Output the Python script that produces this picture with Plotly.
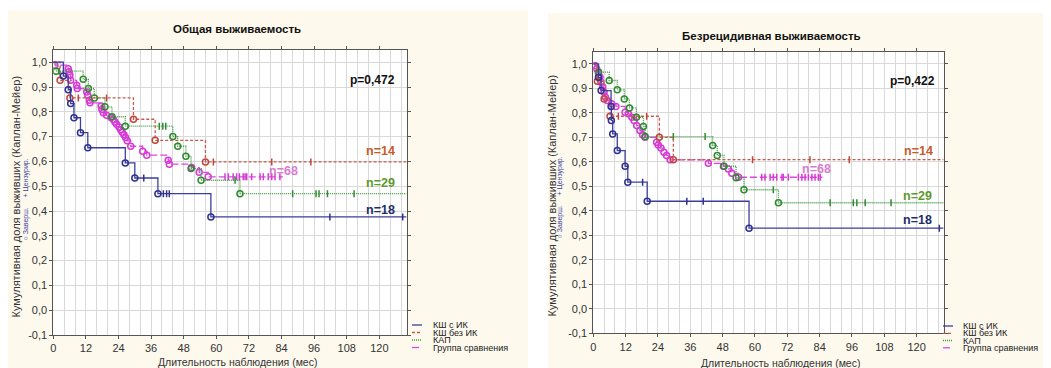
import numpy as np
import plotly.graph_objects as go

# page is rendered with the browser's default 8px body margin
OFF = 8
W, H = 1051 - OFF, 368 - OFF

# ---------------- data ----------------
x_ticks = [0, 12, 24, 36, 48, 60, 72, 84, 96, 108, 120]
y_ticks = [-0.1, 0.0, 0.1, 0.2, 0.3, 0.4, 0.5, 0.6, 0.7, 0.8, 0.9, 1.0]
y_tick_labels = ["-0,1", "0,0", "0,1", "0,2", "0,3", "0,4", "0,5", "0,6", "0,7", "0,8", "0,9", "1,0"]

series_names = ["КШ с ИК", "КШ без ИК", "КАП", "Группа сравнения"]
series_n = ["n=18", "n=14", "n=29", "n=68"]

# Общая выживаемость (overall survival)
os_ksh_ik_t = [3.7, 5.5, 6.4, 7.6, 10.0, 12.7, 26.5, 30.0, 38.5, 58.0]
os_ksh_ik_s = [0.944, 0.889, 0.833, 0.776, 0.716, 0.655, 0.594, 0.533, 0.470, 0.376]
os_ksh_ik_cens = [33.3, 40.5, 41.7, 42.7, 101.8, 128.6]
os_ksh_ik_end = 130

os_ksh_bez_t = [2.5, 6.1, 29.5, 37.5, 56.0]
os_ksh_bez_s = [0.927, 0.856, 0.770, 0.685, 0.598]
os_ksh_bez_cens = [9.2, 19.6, 58.9, 80.4, 94.8]
os_ksh_bez_end = 130

os_kap_t = [1.0, 11.0, 12.9, 15.1, 19.0, 21.6, 26.5, 44.0, 45.8, 48.8, 50.7, 54.4, 68.7]
os_kap_s = [0.964, 0.931, 0.894, 0.856, 0.820, 0.780, 0.742, 0.700, 0.661, 0.621, 0.571, 0.524, 0.470]
os_kap_cens = [2.2, 39.0, 40.3, 41.4, 66.9, 88.1, 96.7, 97.8, 100.9, 110.7]
os_kap_end = 130

os_comp_t = [0.6, 5.5, 5.8, 6.1, 6.4, 8.6, 8.8, 12.3, 12.7, 13.3, 13.5, 17.6, 17.9, 18.4, 19.6,
             21.2, 22.1, 22.7, 23.3, 24.2, 24.8, 25.4, 26.0, 26.6, 27.2, 28.5, 32.9, 34.4,
             42.3, 42.7, 50.9, 53.7, 57.0]
os_comp_s = [0.988, 0.974, 0.961, 0.947, 0.927, 0.907, 0.894, 0.880, 0.867, 0.847, 0.836, 0.823,
             0.809, 0.796, 0.786, 0.777, 0.769, 0.759, 0.750, 0.739, 0.728, 0.718, 0.707, 0.696,
             0.683, 0.661, 0.641, 0.625, 0.605, 0.589, 0.575, 0.556, 0.538]
os_comp_cens = [63.2, 64.4, 66.2, 67.5, 68.5, 69.9, 70.6, 71.2, 73.0, 76.1, 77.3, 79.1, 80.4, 81.6, 83.4]
os_comp_end = 84.5

# Безрецидивная выживаемость (relapse-free survival)
rfs_ksh_ik_t = [1.9, 2.9, 6.6, 6.7, 7.2, 8.9, 11.8, 12.8, 20.0, 57.8]
rfs_ksh_ik_s = [0.945, 0.891, 0.826, 0.769, 0.714, 0.646, 0.582, 0.517, 0.439, 0.329]
rfs_ksh_ik_cens = [18.3, 34.7, 40.8, 128.4]
rfs_ksh_ik_end = 130

rfs_ksh_bez_t = [1.5, 4.0, 6.2, 24.5, 29.7]
rfs_ksh_bez_s = [0.929, 0.857, 0.786, 0.700, 0.609]
rfs_ksh_bez_cens = [9.3, 19.8, 59.1, 80.4, 95.0]
rfs_ksh_bez_end = 130

rfs_kap_t = [2.0, 5.9, 8.9, 11.5, 13.4, 16.0, 18.6, 19.2, 44.3, 46.0, 48.5, 53.0, 55.9, 68.7]
rfs_kap_s = [0.966, 0.932, 0.894, 0.857, 0.820, 0.782, 0.744, 0.703, 0.667, 0.626, 0.582, 0.535, 0.486, 0.433]
rfs_kap_cens = [29.7, 41.5, 66.8, 87.9, 96.5, 97.8, 100.9, 110.5]
rfs_kap_end = 130

rfs_comp_t = [0.63, 1.24, 1.86, 2.5, 2.86, 3.5, 4.0, 4.5, 5.2, 6.8, 8.4, 11.8, 13.0, 14.3, 15.1,
              16.1, 17.3, 18.3, 19.2, 23.5, 24.1, 25.1, 26.2, 27.2, 28.5, 42.7, 48.3, 50.1, 51.4, 53.9]
rfs_comp_s = [0.993, 0.980, 0.966, 0.945, 0.925, 0.905, 0.884, 0.864, 0.850, 0.837, 0.826, 0.802,
              0.796, 0.782, 0.769, 0.748, 0.728, 0.711, 0.700, 0.680, 0.669, 0.656, 0.639, 0.626,
              0.608, 0.594, 0.582, 0.571, 0.553, 0.537]
rfs_comp_cens = [62.5, 63.7, 65.6, 66.8, 68.1, 70.0, 70.5, 72.4, 76.1, 77.4, 78.6, 79.8, 81.1, 82.3, 83.5, 84.2]
rfs_comp_end = 85

panel_titles = ["Общая выживаемость", "Безрецидивная выживаемость"]
p_values = ["p=0,472", "p=0,422"]
y_title = "Кумулятивная доля выживших (Каплан-Мейер)"
y_subtitle = "○ Заверш.     + Цензурир."
x_title = "Длительность наблюдения (мес)"

# ---------------- styles ----------------
line_colors = ["#3b3f9c", "#c9584a", "#3f9a3f", "#df45df"]
marker_colors = ["#2e3190", "#c0463a", "#2f8a2f", "#d63ad6"]
dashes = ["solid", "3px,2px", "1px,1px", "7px,3px"]
label_colors = ["#1f2d6b", "#c85a2a", "#5e9a2e", "#d97bd2"]

CREAM = "#fdf9ed"

fig = go.Figure()

def add_curve(t, s, cens, end, idx, xa, ya):
    times = np.array([0.0] + list(t))
    vals = np.array([1.0] + list(s))
    xs = list(times) + [end]
    ys = list(vals) + [vals[-1]]
    fig.add_trace(go.Scatter(x=xs, y=ys, mode="lines", line=dict(color=line_colors[idx], width=1.3,
                                                                  dash=dashes[idx], shape="hv"),
                             xaxis=xa, yaxis=ya, hoverinfo="skip"))
    fig.add_trace(go.Scatter(x=list(t), y=list(s), mode="markers",
                             marker=dict(symbol="circle-open", size=6, color=marker_colors[idx],
                                         line=dict(width=1.5, color=marker_colors[idx])),
                             xaxis=xa, yaxis=ya, hoverinfo="skip"))
    cens_arr = np.array(cens)
    cy = vals[np.searchsorted(times, cens_arr, side="right") - 1]
    fig.add_trace(go.Scatter(x=list(cens_arr), y=list(cy), mode="markers",
                             marker=dict(symbol="line-ns-open", size=5, color=marker_colors[idx],
                                         line=dict(width=1.5, color=marker_colors[idx])),
                             xaxis=xa, yaxis=ya, hoverinfo="skip"))

os_data = [(os_ksh_ik_t, os_ksh_ik_s, os_ksh_ik_cens, os_ksh_ik_end),
           (os_ksh_bez_t, os_ksh_bez_s, os_ksh_bez_cens, os_ksh_bez_end),
           (os_kap_t, os_kap_s, os_kap_cens, os_kap_end),
           (os_comp_t, os_comp_s, os_comp_cens, os_comp_end)]
rfs_data = [(rfs_ksh_ik_t, rfs_ksh_ik_s, rfs_ksh_ik_cens, rfs_ksh_ik_end),
            (rfs_ksh_bez_t, rfs_ksh_bez_s, rfs_ksh_bez_cens, rfs_ksh_bez_end),
            (rfs_kap_t, rfs_kap_s, rfs_kap_cens, rfs_kap_end),
            (rfs_comp_t, rfs_comp_s, rfs_comp_cens, rfs_comp_end)]

for order in [3, 2, 1, 0]:
    add_curve(*os_data[order], order, "x", "y")
    add_curve(*rfs_data[order], order, "x2", "y2")

# convert screenshot pixel positions into paper coordinates
def px(xp):
    return (xp - OFF) / W

def py(yp):
    return 1 - (yp - OFF) / H

axis_common = dict(showline=True, linecolor="#555", linewidth=1, mirror="allticks",
                   ticks="outside", ticklen=3, tickcolor="#555", zeroline=False, automargin=False,
                   showgrid=True, gridcolor="#d9d9d9", gridwidth=1,
                   tickfont=dict(family="Liberation Sans", size=11, color="#333"))

xdomains = [[px(53.3), px(406.5)], [px(593.3), px(943.6)]]
ydomains = [[py(335.0), py(49.8)], [py(333.3), py(51.6)]]

for i, (xk, yk) in enumerate([("xaxis", "yaxis"), ("xaxis2", "yaxis2")]):
    fig.layout[xk] = dict(axis_common, domain=xdomains[i], range=[0, 130], tickvals=x_ticks,
                          minor=dict(dtick=4, tick0=0, showgrid=True, gridcolor="#d9d9d9", ticks=""),
                          anchor="y" if i == 0 else "y2")
    fig.layout[yk] = dict(axis_common, domain=ydomains[i], range=[-0.1, 1.05], tickvals=y_ticks,
                          ticktext=y_tick_labels, anchor="x" if i == 0 else "x2")

annotations = []
shapes = []

# white strips outside the two cream panels
for (x0, y0, x1, y1) in [(0, 0, 530, 10), (528, 0, 548, 368), (548, 0, 1051, 13)]:
    shapes.append(dict(type="rect", xref="paper", yref="paper", x0=px(x0), x1=px(x1), y0=py(y1), y1=py(y0),
                       fillcolor="white", line=dict(width=0), layer="below"))

panel_geom = [
    dict(title=(237.3, 29.3), ytitle=(15.5, 197), ysub=(25.5, 200), xtitle=(237, 361.5),
         xa="x", ya="y", p=(126.0, 0.927),
         n=[(126.0, 0.406, "right"), (126.0, 0.642, "right"), (126.0, 0.513, "right"), (84.7, 0.562, "center")],
         leg_line=(412, 422), leg_text=432, leg_rows=[325, 332.5, 340, 347.5]),
    dict(title=(771.7, 35.7), ytitle=(551.5, 196), ysub=(559.5, 198), xtitle=(780, 362.5),
         xa="x2", ya="y2", p=(127.2, 0.932),
         n=[(126.2, 0.363, "right"), (126.5, 0.643, "right"), (126.2, 0.462, "right"), (82.9, 0.571, "center")],
         leg_line=(943, 953), leg_text=962, leg_rows=[326, 333.3, 340.5, 347.8]),
]

def ann(text, x, y, size, color, xref="paper", yref="paper", xanchor="center", yanchor="middle", angle=0):
    return dict(text=text, xref=xref, yref=yref, x=x, y=y, xanchor=xanchor, yanchor=yanchor,
                textangle=angle, showarrow=False, borderpad=0,
                font=dict(family="Liberation Sans", size=size, color=color))

for i, g in enumerate(panel_geom):
    annotations.append(ann("<b>" + panel_titles[i] + "</b>", px(g["title"][0]), py(g["title"][1]), 11.5, "#111"))
    annotations.append(ann(y_title, px(g["ytitle"][0]), py(g["ytitle"][1]), 11, "#333", angle=-90))
    annotations.append(ann(y_subtitle, px(g["ysub"][0]), py(g["ysub"][1]), 7, "#3b3f9c", angle=-90))
    annotations.append(ann(x_title, px(g["xtitle"][0]), py(g["xtitle"][1]), 10.5, "#333"))
    annotations.append(ann("<b>" + p_values[i] + "</b>", g["p"][0], g["p"][1], 12, "#111",
                           xref=g["xa"], yref=g["ya"], xanchor="right"))
    for k in range(4):
        nx, ny, anc = g["n"][k]
        annotations.append(ann("<b>" + series_n[k] + "</b>", nx, ny, 12.5, label_colors[k],
                               xref=g["xa"], yref=g["ya"], xanchor=anc))
    for k in range(4):
        r = g["leg_rows"][k]
        shapes.append(dict(type="line", xref="paper", yref="paper",
                           x0=px(g["leg_line"][0]), x1=px(g["leg_line"][1]), y0=py(r), y1=py(r),
                           line=dict(color=line_colors[k], width=1.3, dash=dashes[k])))
        annotations.append(ann(series_names[k], px(g["leg_text"]), py(r), 9, "#222", xanchor="left"))

fig.update_layout(width=W, height=H, margin=dict(l=0, r=0, t=0, b=0, autoexpand=False),
                  paper_bgcolor=CREAM, plot_bgcolor="white", showlegend=False,
                  annotations=annotations, shapes=shapes,
                  font=dict(family="Liberation Sans", size=11, color="#333"))

fig.write_html("out.html")
